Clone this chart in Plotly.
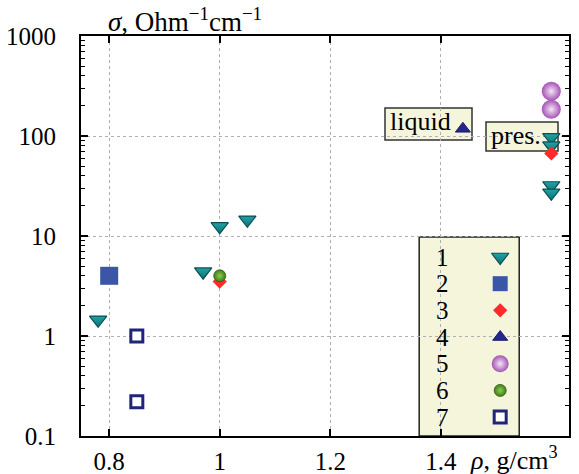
import plotly.graph_objects as go

# ---- data ----
s1_x = [0.78, 0.97, 1.00, 1.05, 1.60, 1.60, 1.60, 1.60]
s1_y = [1.45, 4.4, 12.5, 14.5, 97, 80, 32, 27]
s2_x = [0.80]
s2_y = [4.0]
s3_x = [1.00, 1.60]
s3_y = [3.5, 67]
s4_x = [1.44]
s4_y = [118]
s5_x = [1.60, 1.60]
s5_y = [280, 185]
s6_x = [1.00]
s6_y = [4.0]
s7_x = [0.85, 0.85]
s7_y = [1.0, 0.22]

legend_labels = ["1", "2", "3", "4", "5", "6", "7"]
x_ticks = [0.8, 1.0, 1.2, 1.4]
x_ticklabels = ["0.8", "1", "1.2", "1.4"]
y_ticks = [0.1, 1, 10, 100, 1000]
y_ticklabels = ["0.1", "1", "10", "100", "1000"]
y_minor = [m * 10.0 ** e for e in range(-1, 3) for m in range(2, 10)]

FONT = "Liberation Serif"
BEIGE = "#f5f5dc"

styles = [
    dict(symbol="triangle-down", size=15, color="#1fa5a5", line=dict(color="#0b4f55", width=1.2),
         gradient=dict(type="vertical", color="#0e6e74")),
    dict(symbol="square", size=18, color="#3b56a6", line=dict(color="#3b56a6", width=0)),
    dict(symbol="diamond", size=11, color="#ff2a2a", line=dict(color="#ff6060", width=0)),
    dict(symbol="triangle-up", size=13, color="#25288a", line=dict(color="#1a1c6a", width=1)),
    dict(symbol="circle", size=19, color="#a552b5", line=dict(width=0),
         gradient=dict(type="radial", color="#f4e6f6")),
    dict(symbol="circle", size=12, color="#3f7f1a", line=dict(color="#2d5d10", width=0.8),
         gradient=dict(type="radial", color="#8ccc50")),
    dict(symbol="square", size=12, color="white", line=dict(color="#20247a", width=3)),
]
series = [(s1_x, s1_y), (s2_x, s2_y), (s3_x, s3_y), (s4_x, s4_y),
          (s5_x, s5_y), (s6_x, s6_y), (s7_x, s7_y)]

fig = go.Figure()
for (xs, ys), st in zip(series, styles):
    fig.add_trace(go.Scatter(x=xs, y=ys, mode="markers", marker=st,
                             showlegend=False, hoverinfo="skip"))

# custom legend (numbers left, markers right) on an overlay axis
leg_y = [0.4475 - i * 0.0667 for i in range(len(legend_labels))]
for i, st in enumerate(styles):
    st2 = dict(st)
    if i in (1, 4):
        st2["size"] = 15 if i == 1 else 17
    fig.add_trace(go.Scatter(x=[0.859], y=[leg_y[i]], mode="markers", marker=st2,
                             xaxis="x2", yaxis="y2", showlegend=False, hoverinfo="skip"))
    fig.add_annotation(x=0.74, y=leg_y[i], xref="paper", yref="paper", text=legend_labels[i],
                       showarrow=False, xanchor="center", yanchor="middle",
                       font=dict(family=FONT, size=25, color="black"))

fig.add_shape(type="rect", xref="paper", yref="paper", x0=0.693, x1=0.898, y0=0, y1=0.4975,
              fillcolor=BEIGE, line=dict(color="#222", width=1.5), layer="between")

# label boxes
fig.add_shape(type="rect", xref="paper", yref="paper", x0=(385 - 81) / 488, x1=(472 - 81) / 488,
              y0=(436 - 140) / 400, y1=(436 - 108) / 400,
              fillcolor=BEIGE, line=dict(color="#333", width=1.5), layer="between")
fig.add_annotation(x=(388 - 81) / 488, y=(436 - 122) / 400, xref="paper", yref="paper",
                   text="liquid", showarrow=False, xanchor="left", yanchor="middle",
                   font=dict(family=FONT, size=26, color="black"))
fig.add_shape(type="rect", xref="paper", yref="paper", x0=(486 - 81) / 488, x1=(558 - 81) / 488,
              y0=(436 - 151) / 400, y1=(436 - 122) / 400,
              fillcolor=BEIGE, line=dict(color="#333", width=1.5), layer="between")
fig.add_annotation(x=(489 - 81) / 488, y=(436 - 135) / 400, xref="paper", yref="paper",
                   text="pres.", showarrow=False, xanchor="left", yanchor="middle",
                   font=dict(family=FONT, size=26, color="black"))

# axis titles
fig.add_annotation(x=(106 - 81) / 488, y=1.0, xref="paper", yref="paper",
                   text="<i>σ</i>, Ohm<sup>−1</sup>cm<sup>−1</sup>", showarrow=False,
                   xanchor="left", yanchor="bottom", yshift=-3,
                   font=dict(family=FONT, size=27, color="black"))
fig.add_annotation(x=(468 - 81) / 488, y=0, xref="paper", yref="paper",
                   text="<i>ρ</i>, g/cm<sup>3</sup>", showarrow=False,
                   xanchor="left", yanchor="top", yshift=-4,
                   font=dict(family=FONT, size=26, color="black"))

axis_common = dict(showline=True, linecolor="black", linewidth=2, mirror="ticks",
                   ticks="inside", ticklen=7, tickwidth=1.5, tickcolor="black",
                   showgrid=True, gridcolor="#b0b0b0", griddash="dot", gridwidth=1,
                   zeroline=False, automargin=False,
                   tickfont=dict(family=FONT, size=25, color="black"))

fig.update_layout(
    width=579, height=474,
    margin=dict(l=81, r=10, t=36, b=38),
    plot_bgcolor="white", paper_bgcolor="white",
    xaxis=dict(range=[0.749, 1.632], tickvals=x_ticks, ticktext=x_ticklabels,
               ticklabelstandoff=2, **axis_common),
    yaxis=dict(type="log", range=[-1, 3], tickvals=y_ticks, ticktext=y_ticklabels,
               ticklabelstandoff=18,
               minor=dict(ticks="inside", ticklen=4, tickwidth=1.2, tickcolor="black",
                          tickvals=y_minor, showgrid=False),
               **axis_common),
    xaxis2=dict(range=[0, 1], overlaying="x", visible=False, fixedrange=True),
    yaxis2=dict(range=[0, 1], overlaying="y", visible=False, fixedrange=True),
)

fig.write_html("out.html", config={"displayModeBar": False},
               post_script="document.body.style.margin='0';document.body.style.overflow='hidden';")
